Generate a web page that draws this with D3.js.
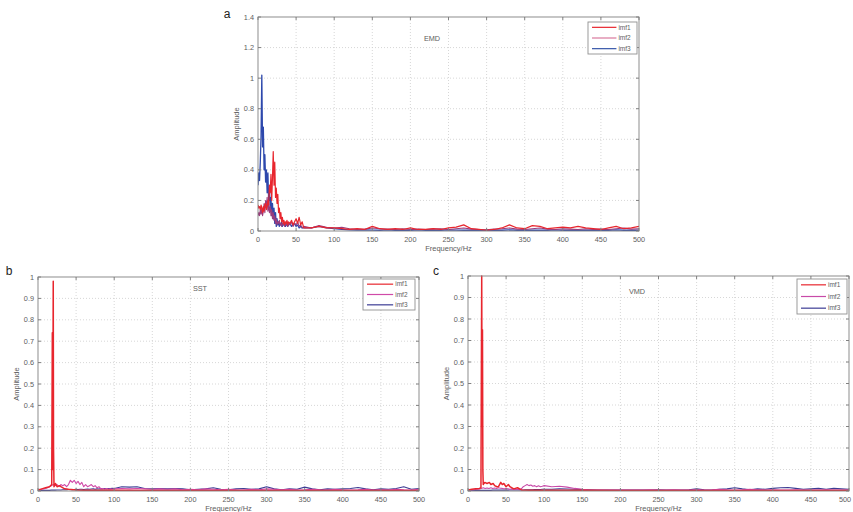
<!DOCTYPE html>
<html><head><meta charset="utf-8">
<script src="https://cdn.jsdelivr.net/npm/d3@7"></script>
<style>body{margin:0;background:#fff}svg{display:block}</style>
</head><body>
<svg id="chart" width="853" height="512"></svg>
<script>
// ---------- DATA ----------
const seriesNames = ["imf1","imf2","imf3"];
const xTicks = [0,50,100,150,200,250,300,350,400,450,500];
const yTicksA = [0,0.2,0.4,0.6,0.8,1,1.2,1.4];
const yLabelsA = ["0","0.2","0.4","0.6","0.8","1","1.2","1.4"];
const yTicksBC = [0,0.1,0.2,0.3,0.4,0.5,0.6,0.7,0.8,0.9,1];
const yLabelsBC = ["0","0.1","0.2","0.3","0.4","0.5","0.6","0.7","0.8","0.9","1"];

// EMD common frequency grid
const emdFreq = [0,1,2,3,4,5,6,7,8,9,10,11,12,13,14,15,16,17,18,19,20,21,22,23,24,25,26,27,28,29,30,31,32,33,34,35,36,37,38,39,40,
  42,44,46,48,50,52,54,56,58,60,
  70,80,90,100,110,120,130,140,150,160,170,180,190,200,210,220,230,240,250,260,270,280,290,300,310,320,330,340,350,360,370,380,390,400,410,420,430,440,450,460,470,480,490,500];
const emdImf1 = [0.17,0.15,0.16,0.14,0.17,0.15,0.12,0.16,0.13,0.17,0.18,0.14,0.16,0.20,0.17,0.30,0.25,0.37,0.20,0.35,0.52,0.30,0.45,0.22,0.28,0.18,0.24,0.12,0.15,0.08,0.12,0.06,0.09,0.05,0.07,0.04,0.06,0.05,0.07,0.04,0.06,
  0.05,0.07,0.04,0.06,0.08,0.05,0.09,0.04,0.06,0.02,
  0.02,0.03,0.02,0.02,0.015,0.01,0.015,0.01,0.03,0.015,0.01,0.015,0.01,0.02,0.01,0.01,0.015,0.01,0.02,0.025,0.04,0.015,0.01,0.005,0.01,0.02,0.04,0.02,0.015,0.035,0.03,0.015,0.02,0.025,0.02,0.03,0.02,0.015,0.01,0.02,0.03,0.015,0.02,0.03];
const emdImf2 = [0.10,0.12,0.10,0.14,0.11,0.15,0.10,0.13,0.18,0.12,0.20,0.15,0.22,0.13,0.18,0.12,0.16,0.10,0.14,0.08,0.12,0.07,0.10,0.05,0.08,0.04,0.06,0.05,0.07,0.04,0.05,0.03,0.05,0.04,0.06,0.03,0.05,0.04,0.06,0.03,0.05,
  0.04,0.06,0.03,0.05,0.04,0.06,0.03,0.04,0.02,0.03,
  0.02,0.035,0.025,0.02,0.025,0.015,0.01,0.012,0.02,0.015,0.012,0.01,0.015,0.01,0.012,0.01,0.012,0.015,0.01,0.015,0.02,0.012,0.01,0.008,0.012,0.015,0.02,0.012,0.01,0.015,0.02,0.012,0.01,0.015,0.012,0.01,0.015,0.01,0.012,0.01,0.015,0.02,0.012,0.015];
const emdImf3 = [0.30,0.38,0.33,0.45,0.62,1.02,0.55,0.68,0.40,0.50,0.32,0.40,0.25,0.38,0.20,0.28,0.15,0.22,0.10,0.18,0.08,0.15,0.05,0.12,0.03,0.08,0.04,0.06,0.03,0.05,0.04,0.06,0.03,0.05,0.04,0.05,0.03,0.04,0.05,0.03,0.04,
  0.05,0.03,0.04,0.05,0.03,0.04,0.02,0.03,0.02,0.02,
  0.02,0.03,0.02,0.015,0.01,0.008,0.006,0.008,0.006,0.005,0.007,0.005,0.006,0.005,0.007,0.005,0.006,0.005,0.007,0.006,0.005,0.006,0.005,0.004,0.006,0.005,0.007,0.005,0.006,0.005,0.006,0.005,0.007,0.005,0.006,0.005,0.006,0.005,0.006,0.005,0.007,0.005,0.006,0.005];

// SST / VMD common grid for imf2, imf3
const gridFreq = [0,2.5,5,7.5,10,12.5,15,17.5,20,22.5,25,27.5,30,32.5,35,37.5,40,42.5,45,47.5,50,52.5,55,57.5,60,62.5,65,67.5,70,72.5,75,77.5,80,82.5,85,87.5,90,92.5,95,97.5,100,
  110,120,130,140,150,160,170,180,190,200,210,220,230,240,250,260,270,280,290,300,310,320,330,340,350,360,370,380,390,400,410,420,430,440,450,460,470,480,490,500];

const sstFreq1 = [0,5,10,15,18,18.8,19.2,19.6,20,20.4,21,23,25,28,30,35,40,50,60,80,100,150,200,250,300,350,400,450,500];
const sstImf1  = [0.005,0.01,0.015,0.02,0.03,0.74,0.1,0.5,0.98,0.2,0.02,0.035,0.02,0.025,0.02,0.01,0.008,0.005,0.004,0.003,0.003,0.002,0.002,0.002,0.002,0.002,0.002,0.002,0.002];
const sstImf2 = [0.003,0.005,0.008,0.01,0.012,0.015,0.02,0.025,0.03,0.025,0.03,0.02,0.03,0.025,0.03,0.02,0.03,0.05,0.04,0.05,0.035,0.045,0.03,0.04,0.02,0.03,0.02,0.025,0.03,0.02,0.025,0.015,0.02,0.01,0.012,0.008,0.012,0.008,0.01,0.008,0.01,
  0.012,0.01,0.012,0.01,0.008,0.01,0.008,0.01,0.006,0.008,0.006,0.01,0.008,0.006,0.008,0.006,0.005,0.008,0.006,0.01,0.008,0.006,0.008,0.005,0.006,0.008,0.006,0.005,0.008,0.006,0.005,0.006,0.008,0.005,0.006,0.005,0.008,0.006,0.005,0.008];
const sstImf3 = [0.002,0.002,0.002,0.003,0.003,0.003,0.003,0.004,0.004,0.004,0.005,0.005,0.005,0.006,0.006,0.006,0.007,0.007,0.006,0.007,0.008,0.007,0.008,0.008,0.007,0.008,0.009,0.008,0.009,0.01,0.008,0.01,0.009,0.011,0.01,0.012,0.01,0.012,0.011,0.013,0.012,
  0.02,0.018,0.02,0.012,0.01,0.012,0.01,0.012,0.01,0.006,0.008,0.01,0.015,0.008,0.006,0.01,0.012,0.008,0.01,0.02,0.01,0.006,0.01,0.008,0.018,0.01,0.006,0.01,0.008,0.01,0.012,0.016,0.01,0.006,0.01,0.008,0.012,0.02,0.008,0.012];

const vmdFreq1 = [0,5,10,15,17,17.5,18,18.5,19,19.5,20,20.5,21,22,25,28,30,33,35,38,40,43,45,47,50,53,55,60,65,70,80,100,150,200,250,300,350,400,450,500];
const vmdImf1  = [0.005,0.008,0.01,0.012,0.015,0.52,1.0,0.3,0.75,0.1,0.03,0.04,0.035,0.04,0.035,0.04,0.03,0.035,0.025,0.02,0.02,0.04,0.03,0.035,0.02,0.03,0.02,0.01,0.015,0.005,0.004,0.003,0.003,0.002,0.002,0.002,0.002,0.002,0.002,0.002];
const vmdImf2 = [0.003,0.004,0.005,0.006,0.007,0.008,0.01,0.012,0.015,0.012,0.014,0.012,0.015,0.012,0.014,0.012,0.015,0.013,0.012,0.01,0.012,0.01,0.008,0.01,0.008,0.007,0.008,0.006,0.01,0.02,0.025,0.03,0.025,0.028,0.022,0.025,0.02,0.024,0.02,0.022,0.025,
  0.02,0.022,0.018,0.012,0.008,0.005,0.005,0.004,0.005,0.004,0.005,0.004,0.005,0.006,0.004,0.005,0.006,0.005,0.004,0.006,0.005,0.006,0.008,0.006,0.005,0.006,0.008,0.006,0.005,0.006,0.005,0.004,0.006,0.005,0.004,0.005,0.006,0.004,0.005,0.004];
const vmdImf3 = [0.002,0.002,0.002,0.002,0.002,0.003,0.003,0.003,0.003,0.003,0.003,0.003,0.003,0.004,0.004,0.004,0.004,0.004,0.004,0.004,0.004,0.004,0.005,0.005,0.005,0.005,0.005,0.005,0.005,0.005,0.006,0.006,0.006,0.006,0.006,0.007,0.007,0.007,0.007,0.008,0.008,
  0.008,0.01,0.009,0.008,0.007,0.006,0.005,0.005,0.004,0.004,0.004,0.005,0.004,0.005,0.006,0.005,0.004,0.005,0.006,0.01,0.006,0.005,0.008,0.01,0.015,0.01,0.006,0.01,0.008,0.012,0.015,0.016,0.012,0.008,0.01,0.012,0.008,0.012,0.01,0.008];

// ---------- DRAW ----------
const svg = d3.select("#chart");
const W = 853;
const FONT = "'Liberation Sans', Arial, sans-serif";
const zip = (f, a) => f.map((x, i) => ({f: x, a: a[i]})).filter(d => d.a !== undefined);

function panel(cfg) {
  const x = d3.scaleLinear().domain([0, 500]).range([cfg.l, cfg.r]);
  const y = d3.scaleLinear().domain([0, cfg.yMax]).range([cfg.b, cfg.t]);
  const g = svg.append("g");
  const clipId = "clip" + cfg.letter;
  svg.append("clipPath").attr("id", clipId).append("rect")
    .attr("x", cfg.l).attr("y", cfg.t - 1).attr("width", cfg.r - cfg.l).attr("height", cfg.b - cfg.t + 1);

  // grid
  g.selectAll(".gx").data(xTicks.slice(1, -1)).join("line")
    .attr("x1", d => x(d)).attr("x2", d => x(d)).attr("y1", cfg.t).attr("y2", cfg.b)
    .attr("stroke", "#cdcdcd").attr("stroke-width", 0.8).attr("stroke-dasharray", "1,2");
  g.selectAll(".gy").data(cfg.yTicks.slice(1, -1)).join("line")
    .attr("y1", d => y(d)).attr("y2", d => y(d)).attr("x1", cfg.l).attr("x2", cfg.r)
    .attr("stroke", "#cdcdcd").attr("stroke-width", 0.8).attr("stroke-dasharray", "1,2");

  // lines
  const line = d3.line().x(d => x(d.f)).y(d => y(d.a));
  const lg = g.append("g").attr("clip-path", `url(#${clipId})`);
  cfg.series.slice().reverse().forEach(s => {
    lg.append("path").datum(zip(s.f, s.a)).attr("d", line)
      .attr("fill", "none").attr("stroke", s.color).attr("stroke-width", s.w || 1.1)
      .attr("stroke-linejoin", "round");
  });

  // frame
  g.append("rect").attr("x", cfg.l).attr("y", cfg.t).attr("width", cfg.r - cfg.l).attr("height", cfg.b - cfg.t)
    .attr("fill", "none").attr("stroke", "#808080").attr("stroke-width", 0.9);

  // ticks (inward, all sides)
  const tk = 3;
  xTicks.forEach(v => {
    g.append("line").attr("x1", x(v)).attr("x2", x(v)).attr("y1", cfg.b).attr("y2", cfg.b - tk).attr("stroke", "#808080");
    g.append("line").attr("x1", x(v)).attr("x2", x(v)).attr("y1", cfg.t).attr("y2", cfg.t + tk).attr("stroke", "#808080");
  });
  cfg.yTicks.forEach(v => {
    g.append("line").attr("y1", y(v)).attr("y2", y(v)).attr("x1", cfg.l).attr("x2", cfg.l + tk).attr("stroke", "#808080");
    g.append("line").attr("y1", y(v)).attr("y2", y(v)).attr("x1", cfg.r).attr("x2", cfg.r - tk).attr("stroke", "#808080");
  });

  // tick labels (keep last one inside the page)
  g.selectAll(".xl").data(xTicks).join("text")
    .attr("x", d => Math.min(x(d), W - 8)).attr("y", cfg.b + 11).attr("text-anchor", "middle")
    .attr("font-family", FONT).attr("font-size", 7.3).attr("fill", "#606060").text(d => d);
  g.selectAll(".yl").data(cfg.yTicks).join("text")
    .attr("x", cfg.l - 4).attr("y", d => y(d) + 2.5).attr("text-anchor", "end")
    .attr("font-family", FONT).attr("font-size", 7.3).attr("fill", "#606060").text((d, i) => cfg.yLabels[i]);

  // axis titles
  g.append("text").attr("x", (cfg.l + cfg.r) / 2).attr("y", cfg.b + 20).attr("text-anchor", "middle")
    .attr("font-family", FONT).attr("font-size", 7.5).attr("fill", "#606060").text("Frequency/Hz");
  g.append("text").attr("transform", `translate(${cfg.l - 19},${(cfg.t + cfg.b) / 2}) rotate(-90)`)
    .attr("text-anchor", "middle").attr("font-family", FONT).attr("font-size", 7.5).attr("fill", "#606060").text("Amplitude");

  // method title
  g.append("text").attr("x", cfg.titleX).attr("y", cfg.titleY).attr("text-anchor", "middle")
    .attr("font-family", FONT).attr("font-size", 7.3).attr("fill", "#606060").text(cfg.title);

  // panel letter
  g.append("text").attr("x", cfg.letterX).attr("y", cfg.letterY).attr("text-anchor", "middle")
    .attr("font-family", FONT).attr("font-size", 12).attr("fill", "#222").text(cfg.letter);

  // legend
  const L = cfg.legend;
  g.append("rect").attr("x", L.x).attr("y", L.y).attr("width", L.w).attr("height", L.h)
    .attr("fill", "#fff").attr("stroke", "#909090").attr("stroke-width", 0.9);
  const rowH = L.h / 3;
  cfg.series.forEach((s, i) => {
    const cy = L.y + rowH * (i + 0.5);
    g.append("line").attr("x1", L.x + 4).attr("x2", L.x + L.w * 0.58).attr("y1", cy).attr("y2", cy)
      .attr("stroke", s.legendColor || s.color).attr("stroke-width", 1.2);
    g.append("text").attr("x", L.x + L.w * 0.62).attr("y", cy + 2.2)
      .attr("font-family", FONT).attr("font-size", 6.5).attr("fill", "#606060").text(seriesNames[i]);
  });
}

panel({
  letter: "a", letterX: 227, letterY: 18,
  l: 258, r: 639, t: 17, b: 231, yMax: 1.4, yTicks: yTicksA, yLabels: yLabelsA,
  title: "EMD", titleX: 432, titleY: 41,
  legend: {x: 588, y: 22, w: 49, h: 32},
  series: [
    {f: emdFreq, a: emdImf1, color: "#e8262e", w: 1.2},
    {f: emdFreq, a: emdImf2, color: "#9a3c7c", legendColor: "#d8789c", w: 1.1},
    {f: emdFreq, a: emdImf3, color: "#2d48ac", legendColor: "#3454a8", w: 1.3}
  ]
});

panel({
  letter: "b", letterX: 9, letterY: 275,
  l: 38, r: 419, t: 277, b: 491, yMax: 1, yTicks: yTicksBC, yLabels: yLabelsBC,
  title: "SST", titleX: 200, titleY: 291,
  legend: {x: 363, y: 279, w: 52, h: 31},
  series: [
    {f: sstFreq1, a: sstImf1, color: "#e8262e", w: 1.5},
    {f: gridFreq, a: sstImf2, color: "#d04aa8", w: 1.1},
    {f: gridFreq, a: sstImf3, color: "#3c3c94", w: 1.1}
  ]
});

panel({
  letter: "c", letterX: 436, letterY: 275,
  l: 468, r: 849, t: 276, b: 491, yMax: 1, yTicks: yTicksBC, yLabels: yLabelsBC,
  title: "VMD", titleX: 637, titleY: 294,
  legend: {x: 797, y: 279, w: 50, h: 35},
  series: [
    {f: vmdFreq1, a: vmdImf1, color: "#e8262e", w: 1.5},
    {f: gridFreq, a: vmdImf2, color: "#c84aa8", w: 1.1},
    {f: gridFreq, a: vmdImf3, color: "#3c3c94", w: 1.1}
  ]
});
</script>
</body></html>
